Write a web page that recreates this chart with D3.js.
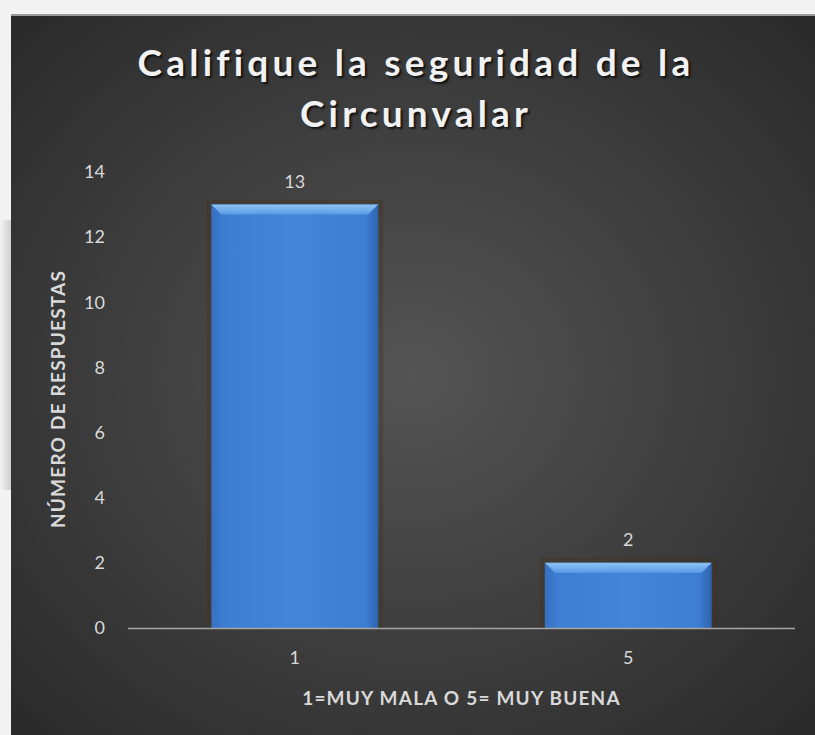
<!DOCTYPE html>
<html><head><meta charset="utf-8">
<script src="https://cdn.jsdelivr.net/npm/d3@7"></script>
<style>html,body{margin:0;padding:0;background:#f2f2f2;}svg{display:block;}</style>
</head><body>
<script>
const categories = ["1", "5"];
const values = [13, 2];
const yTicks = [0, 2, 4, 6, 8, 10, 12, 14];
const titleLines = ["Califique la seguridad de la", "Circunvalar"];
const yTitle = "NÚMERO DE RESPUESTAS";
const xTitle = "1=MUY MALA O 5= MUY BUENA";

const W = 815, H = 735;
const svg = d3.select("body").append("svg").attr("width", W).attr("height", H);
const defs = svg.append("defs");

const rg = defs.append("radialGradient").attr("id", "bg").attr("cx", "50%").attr("cy", "50%").attr("r", "70%");
rg.append("stop").attr("offset", "0%").attr("stop-color", "#545454");
rg.append("stop").attr("offset", "100%").attr("stop-color", "#2a2a2a");

const sh = defs.append("linearGradient").attr("id", "shadow").attr("x1", "0").attr("x2", "1");
sh.append("stop").attr("offset", "0%").attr("stop-color", "#f2f2f2");
sh.append("stop").attr("offset", "100%").attr("stop-color", "#cfcfcf");

const bg = defs.append("linearGradient").attr("id", "bar").attr("x1", "0").attr("x2", "1");
bg.append("stop").attr("offset", "0%").attr("stop-color", "#3670c0");
bg.append("stop").attr("offset", "8%").attr("stop-color", "#3d7ed2");
bg.append("stop").attr("offset", "50%").attr("stop-color", "#4385d8");
bg.append("stop").attr("offset", "92%").attr("stop-color", "#3d7ed2");
bg.append("stop").attr("offset", "100%").attr("stop-color", "#2d64b0");

const bev = defs.append("linearGradient").attr("id", "bev").attr("x1", "0").attr("x2", "0").attr("y1", "0").attr("y2", "1");
bev.append("stop").attr("offset", "0%").attr("stop-color", "#8cc4f6");
bev.append("stop").attr("offset", "100%").attr("stop-color", "#5a9ae4");

// outside background & shadow
svg.append("rect").attr("x", 0).attr("y", 0).attr("width", W).attr("height", H).attr("fill", "#f2f2f2");
svg.append("rect").attr("x", 0).attr("y", 220).attr("width", 11).attr("height", 270).attr("fill", "url(#shadow)");
svg.append("rect").attr("x", 11).attr("y", 14).attr("width", W - 11).attr("height", 2).attr("fill", "#9a9a9a");
// panel
svg.append("rect").attr("x", 11).attr("y", 16).attr("width", W - 11).attr("height", H - 16).attr("fill", "url(#bg)");

const margin = {left: 128, right: 795, top: 172, bottom: 628};
const x = d3.scaleBand().domain(categories).range([margin.left, margin.right]).paddingInner(0.5).paddingOuter(0.25);
const y = d3.scaleLinear().domain([0, 14]).range([margin.bottom, margin.top]);

const font = "Lato, 'Open Sans', sans-serif";

// title
svg.append("g").selectAll("text").data(titleLines).join("text")
  .attr("x", 416).attr("y", (d, i) => 76 + i * 51)
  .attr("text-anchor", "middle").attr("font-family", font).attr("font-weight", "bold")
  .attr("font-size", 37).attr("letter-spacing", 4.2).attr("fill", "#f2f2f2")
  .style("text-shadow", "2px 2px 2px rgba(0,0,0,0.7)")
  .text(d => d);

// y axis ticks labels
const yAxis = d3.axisLeft(y).tickValues(yTicks).tickSize(0).tickPadding(0);
const gy = svg.append("g").attr("transform", `translate(105,0)`).call(yAxis);
gy.select(".domain").remove();
gy.selectAll("text").attr("font-family", font).attr("font-size", 18).attr("fill", "#d9d9d9");

// bars
const bars = svg.append("g").selectAll("g").data(values).join("g");
bars.append("rect")
  .attr("x", (d, i) => x(categories[i]) - 3).attr("y", d => y(d) - 3)
  .attr("width", x.bandwidth() + 6).attr("height", d => y(0) - y(d) + 3)
  .attr("fill", "none").attr("stroke", "rgba(70,50,30,0.35)").attr("stroke-width", 4);
bars.append("rect")
  .attr("x", (d, i) => x(categories[i])).attr("y", d => y(d))
  .attr("width", x.bandwidth()).attr("height", d => y(0) - y(d))
  .attr("fill", "url(#bar)");
bars.append("path")
  .attr("d", (d, i) => {
    const x0 = x(categories[i]), x1 = x0 + x.bandwidth(), t = y(d), b = 10;
    return `M${x0},${t}L${x1},${t}L${x1 - b},${t + b}L${x0 + b},${t + b}Z`;
  })
  .attr("fill", "url(#bev)");

// baseline
svg.append("line").attr("x1", margin.left).attr("x2", margin.right)
  .attr("y1", y(0) + 0.5).attr("y2", y(0) + 0.5).attr("stroke", "#a6a6a6").attr("stroke-width", 1.5);

// data labels
svg.append("g").selectAll("text").data(values).join("text")
  .attr("x", (d, i) => x(categories[i]) + x.bandwidth() / 2).attr("y", d => y(d) - 17)
  .attr("text-anchor", "middle").attr("font-family", font).attr("font-size", 18).attr("fill", "#d9d9d9")
  .text(d => d);

// x axis labels
const xAxis = d3.axisBottom(x).tickSize(0).tickPadding(0);
const gx = svg.append("g").attr("transform", `translate(0,${y(0) + 23})`).call(xAxis);
gx.select(".domain").remove();
gx.selectAll("text").attr("font-family", font).attr("font-size", 18).attr("fill", "#d9d9d9");

// axis titles
svg.append("text").attr("x", (margin.left + margin.right) / 2).attr("y", 705)
  .attr("text-anchor", "middle").attr("font-family", font).attr("font-weight", "bold")
  .attr("font-size", 19).attr("letter-spacing", 1.2).attr("fill", "#d9d9d9").text(xTitle);
svg.append("text").attr("transform", "translate(65,399) rotate(-90)")
  .attr("text-anchor", "middle").attr("font-family", font).attr("font-weight", "bold")
  .attr("font-size", 19).attr("letter-spacing", 1.2).attr("fill", "#d9d9d9").text(yTitle);
</script>
</body></html>
